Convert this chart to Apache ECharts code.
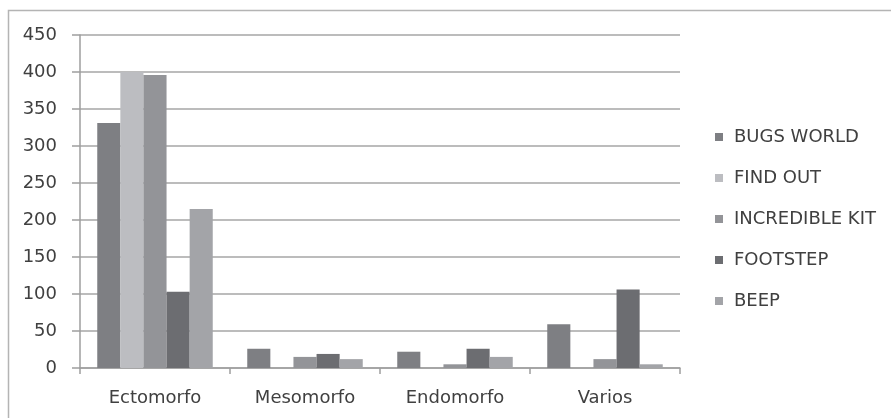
<!DOCTYPE html>
<html>
<head>
<meta charset="utf-8">
<script src="https://cdn.jsdelivr.net/npm/echarts@6/dist/echarts.min.js"></script>
<style>
html,body{margin:0;padding:0;background:#fff;}
#chart{width:891px;height:418px;}
</style>
</head>
<body>
<div id="chart"></div>
<script>
const categories = ['Ectomorfo', 'Mesomorfo', 'Endomorfo', 'Varios'];
const bugsWorld = [331, 26, 22, 59];
const findOut = [400, 0, 0, 0];
const incredibleKit = [396, 15, 5, 12];
const footstep = [103, 19, 26, 106];
const beep = [215, 12, 15, 5];
const yTicks = { min: 0, max: 450, interval: 50 };

const seriesNames = ['BUGS WORLD', 'FIND OUT', 'INCREDIBLE KIT', 'FOOTSTEP', 'BEEP'];
const seriesData = [bugsWorld, findOut, incredibleKit, footstep, beep];
const colors = ['#7e7f83', '#bcbdc1', '#939498', '#6c6d71', '#a3a4a8'];
const font = '"DejaVu Sans", sans-serif';

const chart = echarts.init(document.getElementById('chart'));
chart.setOption({
  animation: false,
  backgroundColor: '#ffffff',
  color: colors,
  textStyle: { fontFamily: font },
  grid: { left: 80, right: 211, top: 35, bottom: 50 },
  graphic: [{
    type: 'polyline',
    shape: { points: [[8.5, 418], [8.5, 10.5], [891, 10.5]] },
    style: { stroke: '#b4b4b4', lineWidth: 1.5, fill: null },
    silent: true
  }],
  legend: {
    orient: 'vertical',
    left: 710,
    top: 123,
    itemWidth: 8,
    itemHeight: 8,
    itemGap: 23,
    icon: 'rect',
    textStyle: { fontSize: 18, color: '#404040', fontFamily: font, padding: [0, 0, 0, 6] },
    data: seriesNames
  },
  xAxis: {
    type: 'category',
    data: categories,
    axisLine: { lineStyle: { color: '#9e9e9e', width: 1.5 } },
    axisTick: { show: true, length: 6, lineStyle: { color: '#9e9e9e', width: 1.5 } },
    axisLabel: { fontSize: 18, color: '#404040', margin: 21, fontFamily: font }
  },
  yAxis: {
    type: 'value',
    min: yTicks.min,
    max: yTicks.max,
    interval: yTicks.interval,
    axisLine: { show: true, lineStyle: { color: '#9e9e9e', width: 1.5 } },
    axisTick: { show: true, length: 8, lineStyle: { color: '#9e9e9e', width: 1.5 } },
    axisLabel: { fontSize: 18, color: '#404040', margin: 23, fontFamily: font },
    splitLine: { lineStyle: { color: '#a6a6a6', width: 1.5 } }
  },
  series: seriesNames.map((name, i) => ({
    name: name,
    type: 'bar',
    data: seriesData[i],
    barGap: '0%',
    barCategoryGap: '23%',
    itemStyle: { color: colors[i] }
  }))
});
</script>
</body>
</html>
